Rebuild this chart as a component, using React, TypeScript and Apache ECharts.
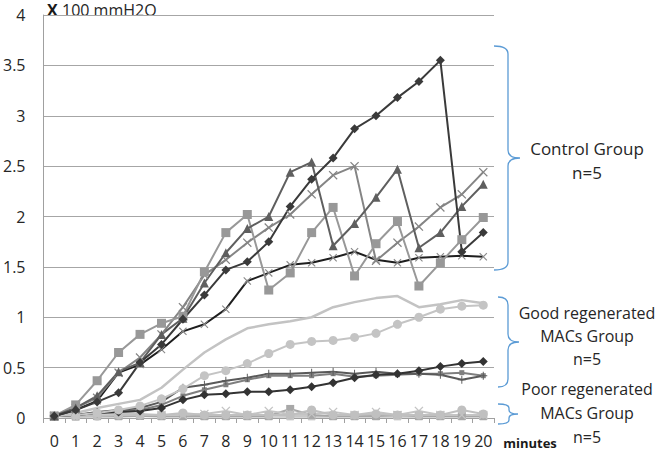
import React, { useEffect, useRef } from "react";
import * as echarts from "echarts";

const minutes = ["0","1","2","3","4","5","6","7","8","9","10","11","12","13","14","15","16","17","18","19","20"];

// Control group (n=5)
const controlDiamond = [0.02,0.08,0.16,0.25,0.55,0.73,0.98,1.22,1.47,1.55,1.75,2.1,2.37,2.58,2.87,3.0,3.18,3.34,3.55,1.65,1.84];
const controlTriangle = [0.02,0.1,0.22,0.46,0.55,0.83,0.99,1.34,1.64,1.88,2.0,2.44,2.54,1.71,1.93,2.19,2.47,1.69,1.84,2.1,2.32];
const controlSquare = [0.02,0.13,0.37,0.65,0.83,0.94,1.01,1.45,1.84,2.02,1.27,1.44,1.84,2.09,1.41,1.73,1.95,1.31,1.54,1.77,1.99];
const controlCross = [0.02,0.1,0.2,0.45,0.6,0.83,1.1,1.42,1.57,1.74,1.89,2.02,2.22,2.41,2.5,1.56,1.74,1.9,2.09,2.22,2.44];
const controlBlack = [0.02,0.08,0.17,0.45,0.53,0.68,0.86,0.93,1.08,1.36,1.44,1.52,1.54,1.59,1.65,1.57,1.54,1.59,1.6,1.61,1.6];

// Good regenerated MACs group (n=5)
const goodLight = [0.02,0.05,0.1,0.14,0.18,0.3,0.48,0.65,0.78,0.89,0.93,0.96,1.0,1.1,1.15,1.19,1.21,1.1,1.13,1.17,1.14];
const goodCircle = [0.02,0.03,0.05,0.08,0.12,0.19,0.29,0.42,0.47,0.54,0.64,0.73,0.76,0.77,0.8,0.84,0.93,1.0,1.08,1.11,1.12];
const goodDiamond = [0.02,0.03,0.05,0.06,0.07,0.1,0.18,0.23,0.24,0.26,0.26,0.28,0.31,0.35,0.4,0.43,0.44,0.47,0.51,0.54,0.56];
const goodPlus = [0.02,0.03,0.06,0.08,0.1,0.16,0.3,0.33,0.37,0.4,0.44,0.44,0.45,0.46,0.44,0.46,0.44,0.44,0.43,0.38,0.42];
const goodGrey = [0.02,0.03,0.05,0.07,0.08,0.13,0.22,0.28,0.33,0.38,0.42,0.42,0.42,0.44,0.41,0.42,0.43,0.44,0.44,0.45,0.42];

// Poor regenerated MACs group (n=5)
const poorCircle = [0.02,0.02,0.02,0.03,0.03,0.03,0.05,0.03,0.03,0.03,0.03,0.03,0.08,0.03,0.03,0.04,0.03,0.03,0.03,0.08,0.04];
const poorCross = [0.02,0.03,0.04,0.05,0.04,0.03,0.03,0.04,0.07,0.03,0.07,0.04,0.04,0.06,0.03,0.06,0.03,0.07,0.03,0.03,0.03];
const poorSquare = [0.02,0.02,0.02,0.02,0.02,0.02,0.02,0.02,0.02,0.02,0.02,0.09,0.03,0.02,0.02,0.02,0.03,0.02,0.02,0.02,0.02];
const poorTriangle = [0.02,0.01,0.02,0.03,0.02,0.02,0.03,0.02,0.02,0.02,0.03,0.02,0.02,0.02,0.02,0.02,0.02,0.03,0.02,0.02,0.02];
const poorLightSquare = [0.02,0.01,0.01,0.01,0.02,0.01,0.01,0.01,0.01,0.01,0.01,0.01,0.01,0.01,0.01,0.01,0.01,0.01,0.01,0.01,0.01];

const FONT = "'Open Sans', 'Noto Sans', sans-serif";
const CROSS = "path://M0,1L1,0L5,4L9,0L10,1L6,5L10,9L9,10L5,6L1,10L0,9L4,5Z";
const PLUS = "path://M4.4,0H5.6V4.4H10V5.6H5.6V10H4.4V5.6H0V4.4H4.4Z";

function bracePath(x0: number, xv: number, xt: number, top: number, mid: number, bottom: number, r: number) {
  return `M${x0} ${top} Q${xv} ${top} ${xv} ${top + r} L${xv} ${mid - r} Q${xv} ${mid} ${xt} ${mid} Q${xv} ${mid} ${xv} ${mid + r} L${xv} ${bottom - r} Q${xv} ${bottom} ${x0} ${bottom}`;
}

let registered = false;
function registerBraces() {
  if (registered) return;
  registered = true;
  echarts.graphic.registerShape("braceControl", echarts.graphic.extendPath(bracePath(494, 508, 520, 46, 158, 270, 8), {}));
  echarts.graphic.registerShape("braceGood", echarts.graphic.extendPath(bracePath(498, 508, 519, 297, 342, 387, 8), {}));
  echarts.graphic.registerShape("bracePoor", echarts.graphic.extendPath(bracePath(498, 509, 518, 404, 414, 424, 4), {}));
}

function line(name: string, data: number[], color: string, symbol: string, symbolSize: number, width = 2, markerColor?: string) {
  const mc = markerColor || color;
  return {
    name,
    type: "line",
    data,
    symbol,
    symbolSize,
    showSymbol: symbol !== "none",
    lineStyle: { color, width },
    itemStyle: { color: mc, borderColor: mc, borderWidth: 0 },
    emphasis: { disabled: true },
  };
}

export default function App() {
  const ref = useRef<HTMLDivElement>(null);
  useEffect(() => {
    if (!ref.current) return;
    registerBraces();
    const chart = echarts.init(ref.current, undefined, { renderer: "svg" });
    const textStyle = (x: number, y: number, text: string, size = 16) => ({
      type: "text",
      x,
      y,
      style: { text, fontSize: size, fontFamily: FONT, fill: "#262626", align: "center", verticalAlign: "middle" },
    });
    const brace = (t: string) => ({ type: t, style: { fill: "none", stroke: "#5b9bd5", lineWidth: 1.3 } });
    chart.setOption({
      animation: false,
      backgroundColor: "#ffffff",
      grid: { left: 42, right: 163, top: 15, bottom: 33, containLabel: false },
      xAxis: {
        type: "category",
        data: minutes,
        boundaryGap: true,
        axisLine: { lineStyle: { color: "#a0a0a0", width: 1 } },
        axisTick: { show: true, length: 5, lineStyle: { color: "#a0a0a0" } },
        axisLabel: { interval: 0, color: "#262626", fontSize: 16, fontFamily: FONT, margin: 15 },
      },
      yAxis: {
        type: "value",
        min: 0,
        max: 4,
        interval: 0.5,
        axisLine: { show: true, lineStyle: { color: "#a0a0a0", width: 1 } },
        axisTick: { show: false },
        splitLine: { lineStyle: { color: "#a6a6a6", width: 1 } },
        axisLabel: { color: "#262626", fontSize: 16, fontFamily: FONT, margin: 18 },
      },
      series: [
        line("Poor 5", poorLightSquare, "#d4d4d4", "rect", 7),
        line("Poor 4", poorTriangle, "#c8c8c8", "triangle", 8),
        line("Poor 3", poorSquare, "#a8a8a8", "rect", 8),
        line("Poor 2", poorCross, "#c4c4c4", CROSS, 9),
        line("Poor 1", poorCircle, "#c0c0c0", "circle", 9),
        line("Good 5", goodGrey, "#7f7f7f", "rect", 5),
        line("Good 4", goodPlus, "#595959", PLUS, 8),
        line("Good 3", goodDiamond, "#333333", "diamond", 9),
        line("Good 2", goodCircle, "#c4c4c4", "circle", 9),
        line("Good 1", goodLight, "#c3c3c3", "none", 0, 2.5),
        line("Control 5", controlBlack, "#1e1e1e", CROSS, 8, 2, "#8a8a8a"),
        line("Control 4", controlCross, "#858585", CROSS, 9),
        line("Control 3", controlSquare, "#989898", "rect", 9),
        line("Control 2", controlTriangle, "#5f5f5f", "triangle", 9),
        line("Control 1", controlDiamond, "#3a3a3a", "diamond", 9),
      ],
      graphic: [
        {
          type: "text",
          x: 47,
          y: 10,
          style: { text: "X", fontSize: 16, fontWeight: "bold", fontFamily: FONT, fill: "#1a1a1a", verticalAlign: "middle" },
        },
        {
          type: "text",
          x: 62,
          y: 10,
          style: { text: "100 mmH2O", fontSize: 16, fontFamily: FONT, fill: "#262626", verticalAlign: "middle" },
        },
        {
          type: "text",
          x: 530,
          y: 443,
          style: { text: "minutes", fontSize: 13, fontWeight: "bold", fontFamily: FONT, fill: "#1a1a1a", align: "center", verticalAlign: "middle" },
        },
        brace("braceControl"),
        brace("braceGood"),
        brace("bracePoor"),
        textStyle(587, 148, "Control Group", 17),
        textStyle(587, 172, "n=5", 17),
        textStyle(587, 313, "Good regenerated"),
        textStyle(587, 336, "MACs Group"),
        textStyle(587, 359, "n=5"),
        textStyle(587, 389, "Poor regenerated"),
        textStyle(587, 413, "MACs Group"),
        textStyle(587, 437, "n=5"),
      ],
    });
    return () => chart.dispose();
  }, []);
  return <div ref={ref} style={{ position: "fixed", left: 0, top: 0, width: 657, height: 451, background: "#fff" }} />;
}
